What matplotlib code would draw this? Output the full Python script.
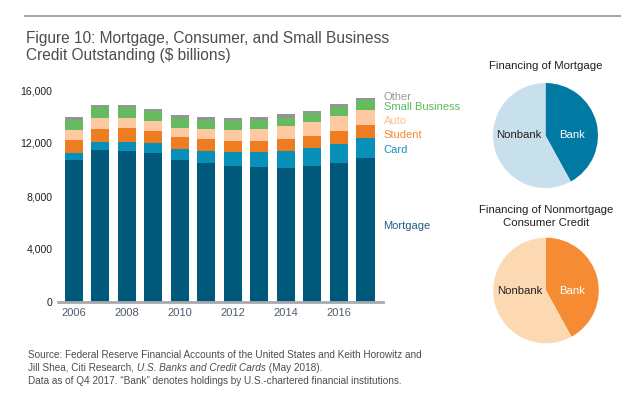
import matplotlib
matplotlib.use("Agg")
import matplotlib.pyplot as plt
import numpy as np

plt.rcParams['font.family'] = ['Liberation Sans', 'DejaVu Sans']

years = [2006, 2007, 2008, 2009, 2010, 2011, 2012, 2013, 2014, 2015, 2016, 2017]
mortgage = [10720, 11470, 11400, 11245, 10720, 10490, 10265, 10190, 10115, 10265, 10490, 10870]
card = [530, 605, 680, 755, 830, 905, 1055, 1130, 1280, 1360, 1435, 1510]
student = [980, 980, 1060, 905, 905, 905, 830, 830, 905, 905, 980, 980]
auto = [750, 830, 755, 755, 680, 755, 830, 905, 980, 1055, 1130, 1130]
small_business = [780, 805, 805, 755, 780, 700, 705, 705, 630, 680, 680, 755]
other = [225, 175, 175, 125, 200, 200, 200, 200, 275, 150, 225, 150]
series_names = ["Mortgage", "Card", "Student", "Auto", "Small Business", "Other"]
tick_years = [2006, 2008, 2010, 2012, 2014, 2016]
y_ticks = [0, 4000, 8000, 12000, 16000]

pie_mortgage = [42, 58]      # Bank, Nonbank (%)
pie_nonmortgage = [42, 58]   # Bank, Nonbank (%)
pie_labels = ["Bank", "Nonbank"]

bar_colors = ["#00587a", "#0990b8", "#ee7d22", "#fec8a0", "#66bb5e", "#929497"]
label_colors = ["#1f5f7f", "#1a8fbf", "#f08a2c", "#fbbf8c", "#5cb85c", "#9a9a9a"]

W, H = 630, 395
fig = plt.figure(figsize=(6.3, 3.95), dpi=100)

def fx(px):
    return px / W

def fy(py):
    return 1 - py / H

# top rule
fig.add_artist(plt.Line2D([fx(25), fx(620)], [fy(16), fy(16)], color="#a7a9ac", lw=1.5))

fig.text(fx(26), fy(60), "Figure 10: Mortgage, Consumer, and Small Business\nCredit Outstanding ($ billions)",
         fontsize=11.2, color="#4d4d4f", ha="left", va="baseline", linespacing=1.15)

# bar chart
ax = fig.add_axes([fx(58), fy(302), fx(383) - fx(58), fy(90) - fy(302)])
x = np.arange(len(years))
data = [mortgage, card, student, auto, small_business, other]
bottom = np.zeros(len(years))
for vals, c, name in zip(data, bar_colors, series_names):
    ax.bar(x, vals, bottom=bottom, color=c, width=0.68, label=name)
    bottom += np.array(vals)

ax.set_xlim(-0.6, 11.66)
ax.set_ylim(0, 16000)
ax.set_yticks(y_ticks)
ax.set_yticklabels([f"{v:,}" for v in y_ticks], fontsize=7.6, color="#231f20")
ax.set_xticks([years.index(y) for y in tick_years])
ax.set_xticklabels([str(y) for y in tick_years], fontsize=8, color="#4d5b6b")
ax.tick_params(length=0, pad=4)
for s in ["top", "right", "left"]:
    ax.spines[s].set_visible(False)
ax.spines["bottom"].set_color("#a7a9ac")
ax.spines["bottom"].set_linewidth(2)
ax.patch.set_alpha(0)

# series labels right of bars
label_y = [5736, 11470, 12600, 13660, 14717, 15470]
for name, c, ly in zip(series_names, label_colors, label_y):
    ax.text(11.68, ly, name, color=c, fontsize=8, ha="left", va="center", clip_on=False)

# pies
def draw_pie(cx, cy, r, vals, colors, title, title_y):
    pax = fig.add_axes([fx(cx - r), fy(cy + r), fx(2 * r), fy(cy - r) - fy(cy + r)])
    pax.pie(vals, colors=colors, startangle=90, counterclock=False, radius=1,
            wedgeprops=dict(linewidth=0))
    pax.set_xlim(-1, 1)
    pax.set_ylim(-1, 1)
    pax.set_aspect("auto")
    pax.axis("off")
    pax.text(0.50, 0.0, pie_labels[0], color="white", fontsize=8.2, ha="center", va="center")
    pax.text(-0.50, 0.0, pie_labels[1], color="#231f20", fontsize=8.2, ha="center", va="center")
    fig.text(fx(cx), fy(title_y), title, fontsize=8.2, color="#231f20", ha="center", va="top",
             linespacing=1.35)

draw_pie(545.5, 135.5, 52.5, pie_mortgage, ["#0079a3", "#c8e0ec"], "Financing of Mortgage", 61)
draw_pie(546, 290.5, 52.8, pie_nonmortgage, ["#f58b33", "#fdd9b3"],
         "Financing of Nonmortgage\nConsumer Credit", 205)

# footnote
fs = 7.2
fc = "#4d4d4f"
fig.text(fx(28), fy(358), "Source: Federal Reserve Financial Accounts of the United States and Keith Horowitz and",
         fontsize=fs, color=fc, ha="left", va="baseline")
t1 = fig.text(fx(28), fy(371), "Jill Shea, Citi Research, ", fontsize=fs, color=fc, ha="left", va="baseline")
a1 = plt.annotate("U.S. Banks and Credit Cards", xy=(1, 0), xycoords=t1, fontsize=fs, color=fc,
                  fontstyle="italic", ha="left", va="bottom", annotation_clip=False)
plt.annotate(" (May 2018).", xy=(1, 0), xycoords=a1, fontsize=fs, color=fc,
             ha="left", va="bottom", annotation_clip=False)
fig.text(fx(28), fy(384), "Data as of Q4 2017. \u201cBank\u201d denotes holdings by U.S.-chartered financial institutions.",
         fontsize=fs, color=fc, ha="left", va="baseline")

fig.savefig("out.png", dpi=100)
